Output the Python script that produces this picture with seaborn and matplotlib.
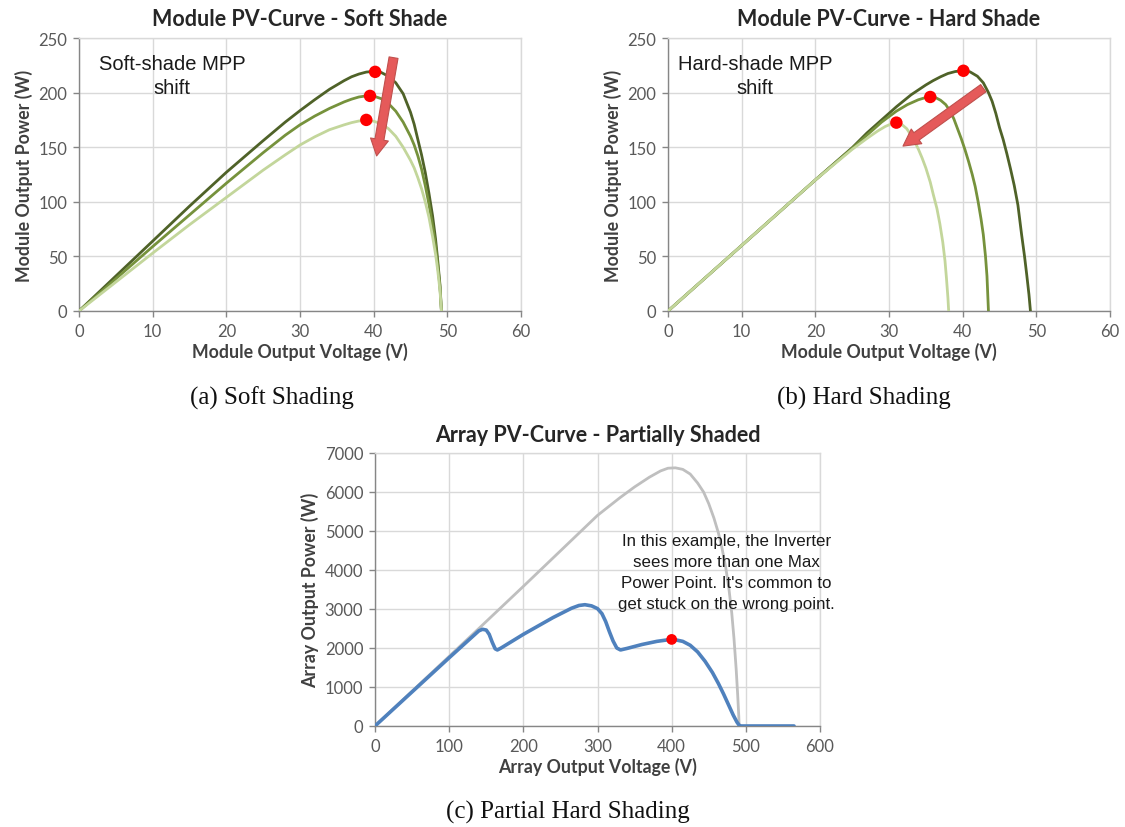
import numpy as np
import pandas as pd
import matplotlib
matplotlib.use("Agg")
import matplotlib.pyplot as plt
import seaborn as sns

# ---------------- data ----------------
# (a) soft shade curves
soft_dark_v = [0, 5, 10, 15, 20, 25, 28, 30, 32, 34, 36, 37, 38, 39, 40, 41, 42, 43, 44, 45, 45.5, 46,
               46.5, 47, 47.5, 48, 48.4, 48.7, 49, 49.2]
soft_dark_p = [0, 32, 64, 96, 127, 156, 173, 183.5, 193.5, 203, 211, 214.5, 217, 218.8, 219.5, 218.5, 215,
               209, 199, 182, 171, 157, 143, 127, 108, 87, 66, 46, 24, 0]
soft_mid_v = [0, 5, 10, 15, 20, 25, 28, 30, 32, 34, 36, 37, 38, 39, 40, 41, 42, 43, 44, 45, 45.5, 46,
              46.5, 47, 47.5, 48, 48.4, 48.7, 49, 49.2]
soft_mid_p = [0, 29.5, 59, 88, 117, 145, 161, 170.5, 178.5, 185.5, 191.5, 194, 196, 197, 196.8, 194.5, 190,
              183, 173, 160, 152, 142, 130, 115, 98, 78, 60, 42, 22, 0]
soft_light_v = [0, 5, 10, 15, 20, 25, 28, 30, 32, 34, 36, 37, 38, 39, 40, 41, 42, 43, 44, 45, 45.5, 46,
                46.5, 47, 47.5, 48, 48.4, 48.7, 49, 49.2]
soft_light_p = [0, 26.5, 53, 79, 104, 129, 143, 152, 159.5, 166, 170.5, 172.5, 174, 174.5, 173.8, 171.5,
                167, 160, 150, 138, 131, 122, 112, 100, 86, 68, 52, 37, 19, 0]
soft_mpp_v = [40.2, 39.5, 39.0]
soft_mpp_p = [219, 197, 175]

# (b) hard shade curves
hard_dark_v = [0, 5, 10, 15, 20, 25, 27, 29, 31, 33, 35, 36, 37, 38, 39, 40, 41, 42, 42.8, 43.5, 44,
               44.5, 45, 45.5, 46, 46.5, 47, 47.5, 48, 48.4, 48.7, 49, 49.2]
hard_dark_p = [0, 30, 60, 90, 120, 149.5, 163, 175, 187, 198, 207, 211, 214.5, 217.5, 219.3, 220, 219,
               215, 209, 200, 192, 181, 168, 157, 144, 130, 115, 97, 70, 50, 33, 15, 0]
hard_mid_v = [0, 5, 10, 15, 20, 25, 27, 29, 31, 32.5, 34, 35, 35.6, 36.3, 37, 37.7, 38.3, 38.8, 39.3,
              39.8, 40.3, 40.8, 41.3, 41.7, 42.1, 42.5, 42.8, 43.1, 43.3, 43.5]
hard_mid_p = [0, 30, 60, 90, 120, 149, 161, 173, 183, 189, 193.5, 195.5, 196, 195.5, 193, 189, 183, 176,
              167, 158, 148, 137, 125, 114, 100, 84, 70, 50, 32, 0]
hard_light_v = [0, 5, 10, 15, 20, 25, 27, 28.5, 29.5, 30.3, 31, 31.7, 32.4, 33, 33.5, 34, 34.5, 35,
                35.6, 36, 36.5, 36.9, 37.3, 37.6, 37.8, 38, 38.1]
hard_light_p = [0, 30, 60, 90, 120, 148, 158, 165, 169, 171.3, 172, 171, 167, 161, 155, 148, 140, 131,
                118, 107, 94, 80, 63, 46, 30, 12, 0]
hard_mpp_v = [40.1, 35.6, 31.0]
hard_mpp_p = [220, 196, 172.5]

# (c) array curves
full_v = [0, 140, 200, 250, 300, 330, 350, 370, 385, 395, 405, 415, 425, 435, 443, 450, 457, 463, 468,
          473, 477, 481, 484, 487, 489, 490.5, 491]
full_p = [0, 2500, 3580, 4490, 5400, 5850, 6130, 6380, 6540, 6610, 6620, 6580, 6460, 6230, 6000, 5700,
          5330, 4950, 4550, 4050, 3550, 2900, 2250, 1450, 800, 250, 0]
shade_v = [0, 50, 100, 140, 145, 150, 154, 158, 162, 165, 170, 200, 240, 265, 275, 283, 292, 300, 306,
           311, 316, 321, 326, 331, 340, 360, 380, 395, 405, 415, 425, 435, 445, 455, 463, 470, 477, 483,
           488, 491, 493, 565]
shade_p = [0, 875, 1750, 2440, 2480, 2460, 2350, 2150, 1980, 1950, 2000, 2350, 2780, 3020, 3090, 3110,
           3080, 3010, 2880, 2680, 2420, 2180, 2000, 1950, 1990, 2090, 2170, 2210, 2210, 2170, 2070, 1900,
           1660, 1370, 1090, 820, 530, 280, 100, 20, 0, 0]
array_mpp_v = [400]
array_mpp_p = [2220]

soft_x_ticks = [0, 10, 20, 30, 40, 50, 60]
soft_y_ticks = [0, 50, 100, 150, 200, 250]
arr_x_ticks = [0, 100, 200, 300, 400, 500, 600]
arr_y_ticks = [0, 1000, 2000, 3000, 4000, 5000, 6000, 7000]

# ---------------- style ----------------
sns.set_theme(style="whitegrid")
plt.rcParams["font.family"] = ["Lato", "DejaVu Sans"]

DARK = "#4f6228"
MID = "#76923c"
LIGHT = "#c3d69b"
BLUE = "#4f81bd"
GRAY = "#bfbfbf"
GRID = "#d9d9d9"
AX = "#868686"
TXT = "#595959"

W, H = 1125, 828
fig = plt.figure(figsize=(W / 100, H / 100), dpi=100)
fig.patch.set_facecolor("white")


def px_axes(l, t, r, b):
    return fig.add_axes([l / W, 1 - b / H, (r - l) / W, (b - t) / H])


def style_ax(ax, xt, yt, title, xlabel, ylabel, tpad):
    ax.set_facecolor("white")
    ax.set_xticks(xt)
    ax.set_yticks(yt)
    ax.set_xlim(xt[0], xt[-1])
    ax.set_ylim(yt[0], yt[-1])
    ax.grid(True, color=GRID, lw=1.0)
    ax.set_axisbelow(True)
    for s in ["top", "right"]:
        ax.spines[s].set_color(GRID)
        ax.spines[s].set_linewidth(1.0)
    for s in ["left", "bottom"]:
        ax.spines[s].set_color(AX)
        ax.spines[s].set_linewidth(1.0)
    ax.tick_params(axis="both", which="major", length=4.5, width=1, color=AX,
                   labelcolor=TXT, labelsize=12, direction="out", bottom=True, left=True)
    ax.tick_params(axis="x", pad=4)
    ax.tick_params(axis="y", pad=4)
    ax.set_title(title, fontsize=15.5, fontweight="bold", color="#262626", pad=tpad)
    ax.set_xlabel(xlabel, fontsize=12.8, fontweight="bold", color="#404040", labelpad=2)
    ax.set_ylabel(ylabel, fontsize=12.8, fontweight="bold", color="#404040", labelpad=4)


def curve(ax, v, p, color, lw, z):
    df = pd.DataFrame({"V": v, "P": p})
    sns.lineplot(data=df, x="V", y="P", ax=ax, color=color, lw=lw, sort=False,
                 estimator=None, zorder=z, solid_joinstyle="round", solid_capstyle="round")


def dots(ax, v, p, s):
    df = pd.DataFrame({"V": v, "P": p})
    sns.scatterplot(data=df, x="V", y="P", ax=ax, color="#ff0000", s=s,
                    edgecolor="none", zorder=6)


def arrow(ax, tail, tip):
    ax.annotate("", xy=tip, xytext=tail,
                arrowprops=dict(arrowstyle="simple,head_width=13,head_length=12,tail_width=6.5",
                                mutation_scale=1, fc="#e55a5a", ec="#c0504d", lw=0.8,
                                shrinkA=0, shrinkB=0),
                zorder=7)


ann_family = ["Liberation Sans", "DejaVu Sans"]

# ---------------- (a) ----------------
ax1 = px_axes(79, 39, 521, 312)
curve(ax1, soft_dark_v, soft_dark_p, DARK, 2.0, 3)
curve(ax1, soft_mid_v, soft_mid_p, MID, 2.0, 3)
curve(ax1, soft_light_v, soft_light_p, LIGHT, 2.0, 3)
dots(ax1, soft_mpp_v, soft_mpp_p, 80)
arrow(ax1, (42.7, 232), (40.4, 142))
style_ax(ax1, soft_x_ticks, soft_y_ticks, "Module PV-Curve - Soft Shade",
         "Module Output Voltage (V)", "Module Output Power (W)", 9.5)
ax1.text(12.6, 216, "Soft-shade MPP\nshift", ha="center", va="center", fontsize=14.5,
         family=ann_family, color="#1a1a1a", linespacing=1.32)

# ---------------- (b) ----------------
ax2 = px_axes(668, 39, 1110, 312)
curve(ax2, hard_dark_v, hard_dark_p, DARK, 2.0, 3)
curve(ax2, hard_mid_v, hard_mid_p, MID, 2.0, 3)
curve(ax2, hard_light_v, hard_light_p, LIGHT, 2.0, 3)
dots(ax2, hard_mpp_v, hard_mpp_p, 80)
arrow(ax2, (42.8, 204), (31.9, 151))
style_ax(ax2, soft_x_ticks, soft_y_ticks, "Module PV-Curve - Hard Shade",
         "Module Output Voltage (V)", "Module Output Power (W)", 9.5)
ax2.text(11.8, 216, "Hard-shade MPP\nshift", ha="center", va="center", fontsize=14.5,
         family=ann_family, color="#1a1a1a", linespacing=1.32)

# ---------------- (c) ----------------
ax3 = px_axes(375, 454, 820, 727)
curve(ax3, full_v, full_p, GRAY, 2.0, 3)
curve(ax3, shade_v, shade_p, BLUE, 2.6, 4)
dots(ax3, array_mpp_v, array_mpp_p, 60)
style_ax(ax3, arr_x_ticks, arr_y_ticks, "Array PV-Curve - Partially Shaded",
         "Array Output Voltage (V)", "Array Output Power (W)", 8.5)
ax3.text(474, 3960,
         "In this example, the Inverter\nsees more than one Max\nPower Point. It's common to\nget stuck on the wrong point.",
         ha="center", va="center", fontsize=12.2, family=ann_family,
         color="#1a1a1a", linespacing=1.5)

# ---------------- captions ----------------
cap_font = dict(fontsize=18, family=["Liberation Serif", "DejaVu Serif"], color="#111111",
                ha="center", va="center")
fig.text(272 / W, 1 - 398 / H, "(a) Soft Shading", **cap_font)
fig.text(864 / W, 1 - 398 / H, "(b) Hard Shading", **cap_font)
fig.text(568 / W, 1 - 812 / H, "(c) Partial Hard Shading", **cap_font)

fig.savefig("out.png", dpi=100, facecolor="white")
